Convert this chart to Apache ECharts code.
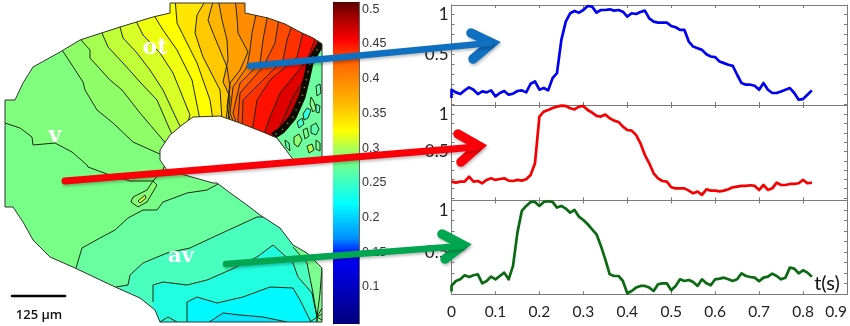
<!DOCTYPE html>
<html><head><meta charset="utf-8">
<style>html,body{margin:0;padding:0;background:#fff}#c{width:850px;height:326px}</style>
<script src="https://cdn.jsdelivr.net/npm/echarts@6/dist/echarts.min.js"></script>
</head><body><div id="c"></div>
<script>
// ---- sampled time axis and the three traces
var times = [0,0.01,0.02,0.03,0.04,0.05,0.06,0.07,0.08,0.09,0.1,0.11,0.12,0.13,0.14,0.15,0.16,0.17,0.18,0.19,0.2,0.21,0.22,0.23,0.24,0.25,0.26,0.27,0.28,0.29,0.3,0.31,0.32,0.33,0.34,0.35,0.36,0.37,0.38,0.39,0.4,0.41,0.42,0.43,0.44,0.45,0.46,0.47,0.48,0.49,0.5,0.51,0.52,0.53,0.54,0.55,0.56,0.57,0.58,0.59,0.6,0.61,0.62,0.63,0.64,0.65,0.66,0.67,0.68,0.69,0.7,0.71,0.72,0.73,0.74,0.75,0.76,0.77,0.78,0.79,0.8,0.81,0.82];
var otValues = [0.054,0.021,0,0.046,0.083,0.054,0,0.033,0.021,0.046,-0.029,0.013,0.038,-0.008,0.004,0.038,0.046,0.021,0.129,0.158,0.054,0.075,0.046,0.2,0.263,0.679,0.908,1.013,1.042,1.021,1.054,1.104,1.096,1.021,1.054,1.054,1.063,1.046,1.054,1.033,0.971,1.013,1.004,1.029,1.046,0.95,0.908,0.896,0.896,0.896,0.854,0.838,0.804,0.804,0.658,0.596,0.575,0.554,0.5,0.471,0.463,0.408,0.388,0.367,0.354,0.242,0.138,0.117,0.117,0.104,0.054,0.138,0.054,0.013,0.013,0.033,0.054,0.075,0.013,-0.071,-0.063,-0.008,0.046];
var vValues = [0.094,0.081,0.094,0.094,0.161,0.094,0.103,0.072,0.117,0.139,0.117,0.13,0.139,0.108,0.103,0.117,0.108,0.126,0.184,0.341,0.969,1.036,1.058,1.085,1.103,1.117,1.112,1.081,1.067,1.103,1.112,1.058,1.022,0.978,0.969,0.996,0.946,0.915,0.897,0.834,0.789,0.78,0.722,0.61,0.453,0.341,0.206,0.139,0.103,0.094,0.018,0.004,0.004,0.004,-0.027,-0.063,-0.04,-0.085,-0.009,-0.027,-0.027,-0.036,-0.027,-0.009,0.018,0.027,0.036,0.036,0.045,0.036,-0.018,0.049,-0.018,0.004,0.081,0.049,0.049,0.063,0.063,0.072,0.117,0.072,0.081];
var avValues = [0.096,0.155,0.175,0.223,0.203,0.223,0.235,0.127,0.155,0.207,0.175,0.215,0.255,0.175,0.335,0.733,0.992,1.052,1.1,1.1,1.052,1.1,1.108,1.1,1.032,1.052,1.02,0.972,1.004,0.924,0.884,0.833,0.773,0.713,0.574,0.414,0.235,0.215,0.215,0.155,0.008,0.036,0.076,0.096,0.096,0.076,0.036,0.116,0.127,0.127,0.044,0.096,0.175,0.155,0.167,0.143,0.096,0.175,0.127,0.104,0.175,0.183,0.195,0.175,0.155,0.175,0.247,0.215,0.203,0.195,0.151,0.195,0.207,0.243,0.215,0.175,0.195,0.315,0.303,0.247,0.283,0.255,0.207];
var otFirstValue = -0.05;
var avFirstValue = 0.03;
// ---- axis ticks
var xTicks = [0,0.1,0.2,0.3,0.4,0.5,0.6,0.7,0.8,0.9];
var yTicks = [0,0.125,0.25,0.375,0.5,0.625,0.75,0.875,1];
var yTicksLow = [-0.125,0,0.125,0.25,0.375,0.5,0.625,0.75,0.875,1];
var yLabels = [0.5,1];
var colorbarTicks = [0.1,0.15,0.2,0.25,0.3,0.35,0.4,0.45,0.5];
var colorbarStops = [[0.5105,'#5a0000'],[0.49,'#a00000'],[0.455,'#ff0000'],[0.42,'#ff6a00'],[0.37,'#ffb000'],[0.325,'#ffff00'],[0.285,'#80ff80'],[0.22,'#00ffff'],[0.17,'#0090ff'],[0.145,'#0000ff'],[0.0465,'#00007a']];
// ---- map geometry, in the units of the full-picture hidden axes
var outline = [[170,3],[245,3],[245,13],[268,18],[285,24],[300,32],[313,38],[322,44],[322,158],[295,162],[277,138],[263,132],[240,123],[220,116],[193,117],[182,125],[170,135],[160,150],[160,160],[167,170],[213,183],[217,183],[233,195],[247,205],[260,215],[280,228],[293,245],[307,253],[322,268],[322,322],[160,322],[155,310],[140,298],[113,286],[75,268],[50,257],[33,240],[23,222],[13,207],[5,207],[5,100],[15,100],[23,83],[33,67],[60,52],[80,40],[120,27],[153,17],[170,13]];
var upperContours = [
 [[58,46],[62,50],[70,62],[83,82],[85,90],[97,110],[113,123],[133,142],[162,155]],
 [[80,38],[82,41],[90,50],[90,58],[110,80],[122,90],[140,113],[157,133],[169,147]],
 [[100,29],[102,33],[108,47],[123,63],[140,82],[157,100],[170,130],[174,138]],
 [[118,22],[120,27],[123,38],[137,53],[150,70],[163,90],[177,120],[182,130]],
 [[134,16],[136,21],[143,35],[160,53],[173,73],[190,115],[188,122]],
 [[153,12],[155,17],[163,30],[177,50],[192,80],[195,95],[200,120]],
 [[175,-2],[177,23],[187,43],[197,63],[210,100],[213,120]],
 [[207,-2],[197,15],[195,33],[203,57],[220,90],[222,120]],
 [[214,-2],[208,20],[213,33],[227,67],[230,87],[226,120]],
 [[218,-2],[222,20],[227,40],[228,60],[223,82],[230,97],[228,122]],
 [[235,-2],[237,17],[238,33],[248,52],[240,70],[230,83],[227,107],[231,124]],
 [[257,10],[252,33],[250,50],[247,67],[233,87],[230,113],[235,126]],
 [[268,13],[263,40],[260,63],[240,83],[233,113],[238,128]],
 [[279,18],[275,43],[263,67],[240,93],[238,120],[241,130]],
 [[292,25],[287,40],[283,60],[263,80],[243,100],[242,130]],
 [[304,28],[297,57],[270,80],[257,100],[252,132]],
 [[317,34],[307,60],[280,93],[270,117],[263,137]],
 [[319,38],[308,73],[293,97],[283,120],[275,136]]
];
var upperColors = ['#8eff68','#a6ff50','#c0ff38','#d8ff28','#f0ff10','#ffff00','#ffe600','#ffc800','#ffb400','#ffa000','#ff8c00','#ff7800','#ff6000','#ff4800','#ff3000','#ff1000','#e00000','#c80000'];
var baseColor = '#80ff7e';
var leftContour = [[0,122],[5,123],[20,128],[32,137],[33,145],[55,143],[72,152],[87,165],[88,167],[107,174],[130,181],[153,181],[163,170],[167,158]];
var leftColor = '#78ff88';
var lowerContours = [
 [[78,274],[76,268],[82,248],[100,238],[115,230],[128,218],[143,210],[157,210],[163,202],[187,193],[207,190],[218,184],[222,178]],
 [[112,290],[116,287],[128,285],[130,275],[143,263],[167,253],[190,248],[207,240],[233,228],[257,217],[267,217],[280,228],[285,224]],
 [[153,302],[153,285],[163,282],[187,285],[207,280],[230,270],[257,257],[273,245],[293,263],[298,277],[312,293],[317,317],[317,330]],
 [[187,330],[187,302],[197,297],[217,303],[243,297],[270,287],[293,288],[300,300],[310,320],[312,330]],
 [[197,330],[223,313],[240,315],[263,317],[287,322],[290,330]]
];
var lowerColors = ['#68ffa0','#48ffc0','#22ffe0','#00f8ff','#00e6ff'];
var blobOuter = [[153,181],[147,190],[133,197],[131,202],[138,207],[147,202],[157,185]];
var blobInner = [[138,201],[145,195],[146,198],[140,203]];
var sideLine1 = [[293,247],[307,263],[313,293],[317,317],[317,330]];
var sideLine2 = [[322,268],[320,293],[317,317]];
var cornerFan = [[[317,317],[322,308]],[[317,317],[322,314]],[[317,317],[322,320]],[[317,317],[310,322]],[[160,322],[168,317],[177,322]]];
var fringeEdge = [[322,43],[317,50],[310,63],[307,77],[302,97],[293,117],[282,130],[273,136]];
var fringeColor = '#70ffa0';
var fringePatches = [
 {p:[[303,114],[307,108],[311,110],[308,118],[304,120]],c:'#30ffe0'},
 {p:[[297,122],[302,118],[304,124],[299,128]],c:'#40ffd0'},
 {p:[[311,126],[316,123],[319,129],[316,135],[311,133]],c:'#60ffb0'},
 {p:[[294,137],[299,134],[302,140],[298,147],[294,144]],c:'#90ff70'},
 {p:[[307,146],[312,144],[314,150],[309,153]],c:'#b0ff50'},
 {p:[[316,86],[320,84],[321,93],[317,96]],c:'#60ffb0'},
 {p:[[311,97],[314,102],[316,109],[313,112],[310,104]],c:'#88ff90'},
 {p:[[285,140],[289,143],[290,151],[286,147]],c:'#60ffb0'},
 {p:[[316,104],[320,106],[319,113],[316,112]],c:'#50ffc0'},
 {p:[[303,130],[307,128],[309,136],[305,139]],c:'#78ff90'},
 {p:[[316,140],[320,143],[320,151],[316,149]],c:'#78ff90'}
];
// ---- annotations
var blueShaft = [[250,66],[490,43]], blueHead = [[471,33],[492,43],[473,59]];
var redShaft = [[65,181],[476,147]], redHead = [[458,134],[479,146],[461,162]];
var greenShaft = [[226,264],[462,246]], greenHead = [[442,234],[463,245],[445,259]];
var scaleBar = [[12,296],[65,296]];

function path(pts, api){ return pts.map(function(p){ return api.coord(p); }); }
function renderMap(params, api){
  var kids = [];
  function fill(pts,c){ kids.push({type:'polygon',shape:{points:path(pts,api)},style:{fill:c,stroke:null}}); }
  function line(pts,w,col,dash){ kids.push({type:'polyline',shape:{points:path(pts,api)},style:{fill:null,stroke:col||'#1c2a10',lineWidth:w||1,lineDash:dash||null}}); }
  fill([[-5,-5],[345,-5],[345,335],[-5,335]],baseColor);
  upperContours.forEach(function(c,i){
    fill(c.concat([[230,150],[340,150],[340,-10],[c[0][0],-10]]),upperColors[i]);
  });
  fill(fringeEdge.concat([[285,170],[340,170],[340,40]]),fringeColor);
  fill(leftContour.concat([[340,158],[340,340],[0,340]]),leftColor);
  lowerContours.forEach(function(c,i){
    var last=c[c.length-1];
    fill(c.concat([[340,last[1]],[340,340],[c[0][0],340]]),lowerColors[i]);
  });
  fill(sideLine1.concat([[340,330],[340,247]]),'#7cff90');
  fill(blobOuter,'#84ff74'); fill(blobInner,'#d8ff40');
  fringePatches.forEach(function(f){ fill(f.p,f.c); line(f.p.concat([f.p[0]]),1); });
  upperContours.forEach(function(c){ line(c); });
  line(leftContour);
  lowerContours.forEach(function(c){ line(c); });
  line(blobOuter.concat([blobOuter[0]])); line(blobInner.concat([blobInner[0]]));
  line(sideLine1); line(sideLine2);
  cornerFan.forEach(function(c){ line(c); });
  line(fringeEdge,7,'#0c0c00');
  line(fringeEdge,1.6,'#b8a020',[1,7]);
  var clip={type:'polygon',shape:{points:path(outline,api)}};
  return {type:'group',children:[
    {type:'group',clipPath:clip,children:kids},
    {type:'polygon',shape:{points:path(outline,api)},style:{fill:null,stroke:'#333',lineWidth:1}}
  ]};
}
function renderBar(params, api){
  var a=api.coord([0,colorbarStops[0][0]]), b=api.coord([1,colorbarStops[colorbarStops.length-1][0]]);
  var top=colorbarStops[0][0], span=top-colorbarStops[colorbarStops.length-1][0];
  return {type:'rect',shape:{x:a[0],y:a[1],width:b[0]-a[0],height:b[1]-a[1]},
    style:{fill:new echarts.graphic.LinearGradient(0,0,0,1,colorbarStops.map(function(s){return {offset:(top-s[0])/span,color:s[1]};}))}};
}
var frame='#7a7a7a';
var grids=[{left:0,top:0,width:850,height:326}], xAxes=[], yAxes=[], series=[];
xAxes.push({type:'value',gridIndex:0,min:0,max:850,show:false});
yAxes.push({type:'value',gridIndex:0,min:0,max:326,inverse:true,show:false});

function plot(top,h,ymin,ymax,ticks,vals,col,isLast,firstValue){
  var g=grids.length;
  grids.push({left:451.5,top:top,width:395.5,height:h});
  var base={type:'value',gridIndex:g,min:0,max:0.9,splitLine:{show:false},
    axisLine:{show:true,onZero:false,lineStyle:{color:frame}},
    axisTick:{show:true,inside:true,length:3,customValues:xTicks,lineStyle:{color:frame}}};
  xAxes.push(Object.assign({},base,{position:'bottom',
    axisLabel:{show:!!isLast,customValues:xTicks,margin:10,alignMaxLabel:'right',fontFamily:'Lato',fontSize:15.5,color:'#222',hideOverlap:false}}));
  xAxes.push(Object.assign({},base,{position:'top',axisLabel:{show:false}}));
  var ybase={type:'value',gridIndex:g,min:ymin,max:ymax,splitLine:{show:false},
    axisLine:{show:true,onZero:false,lineStyle:{color:frame}},
    axisTick:{show:true,inside:true,length:3,customValues:ticks,lineStyle:{color:frame}}};
  yAxes.push(Object.assign({},ybase,{position:'left',
    axisLabel:{show:true,customValues:yLabels,margin:3,fontFamily:'Lato',fontSize:17,color:'#222'}}));
  yAxes.push(Object.assign({},ybase,{position:'right',axisLabel:{show:false}}));
  var pts=times.map(function(t,i){return [t,vals[i]];});
  if(firstValue!==undefined) pts.unshift([0,firstValue]);
  series.push({type:'line',xAxisIndex:xAxes.length-2,yAxisIndex:yAxes.length-2,z:3,clip:false,
    symbol:'none',lineStyle:{color:col,width:2.7,join:'round'},data:pts});
}
plot(5,100,-0.1375,1.117,yTicksLow,otValues,'#0000f0',false,otFirstValue);
plot(105,95.3,-0.157,1.125,yTicks.concat([-0.125]),vValues,'#f50000');
plot(200.5,93.8,-0.004,1.117,yTicks,avValues,'#0a6a12',true,avFirstValue);

// colour bar
var cb=grids.length;
grids.push({left:333,top:2,width:26,height:322});
xAxes.push({type:'value',gridIndex:cb,min:0,max:1,show:false});
var cbY={type:'value',gridIndex:cb,min:0.0465,max:0.5105,splitLine:{show:false},
  axisLine:{show:true,onZero:false,lineStyle:{color:'#666'}},
  axisTick:{show:true,inside:true,length:4,customValues:colorbarTicks,lineStyle:{color:'#111'}}};
yAxes.push(Object.assign({},cbY,{position:'right',axisLabel:{show:true,customValues:colorbarTicks,margin:3,fontFamily:'Liberation Sans',fontSize:12.5,color:'#333'}}));
yAxes.push(Object.assign({},cbY,{position:'left',axisLabel:{show:false}}));
series.push({type:'custom',xAxisIndex:xAxes.length-1,yAxisIndex:yAxes.length-2,z:1,clip:false,silent:true,data:[[0,0.3]],renderItem:renderBar});

series.push({type:'custom',xAxisIndex:0,yAxisIndex:0,z:2,clip:false,silent:true,data:[[0,0]],renderItem:renderMap});
function overlay(pts,col,w,z,shadow){
  series.push({type:'line',xAxisIndex:0,yAxisIndex:0,z:z,clip:false,symbol:'none',data:pts,
    lineStyle:Object.assign({color:col,width:w,cap:'round',join:'miter',miterLimit:6},shadow?{shadowColor:'rgba(0,0,0,0.25)',shadowBlur:3,shadowOffsetX:1,shadowOffsetY:2}:{})});
}
overlay(scaleBar,'#000',2.6,6,false);
[[blueShaft,blueHead,'#0f6fc0',6.5],[redShaft,redHead,'#fa0008',7],[greenShaft,greenHead,'#00a650',6.5]].forEach(function(a){
  overlay(a[1],a[2],9.5,8,true);
  overlay(a[0],a[2],a[3],9,true);
});

function txt(x,y,s,font,col,align){
  return {type:'text',x:x,y:y,z:50,silent:true,style:{text:s,font:font,fill:col,textAlign:align||'center',textVerticalAlign:'middle'}};
}
var chart=echarts.init(document.getElementById('c'),null,{renderer:'canvas'});
chart.setOption({animation:false,backgroundColor:'#fff',grid:grids,xAxis:xAxes,yAxis:yAxes,series:series,
  graphic:{elements:[
    txt(155,48,'ot','bold 22px "DejaVu Serif"','#fff'),
    txt(55,136,'v','bold 22px "DejaVu Serif"','#fff'),
    txt(181,257,'av','bold 21px "DejaVu Serif"','#fff'),
    txt(39,315,'125 µm','600 13px "Open Sans"','#111'),
    txt(827,284,'t(s)','20px Lato','#111')
  ]}});
</script></body></html>
